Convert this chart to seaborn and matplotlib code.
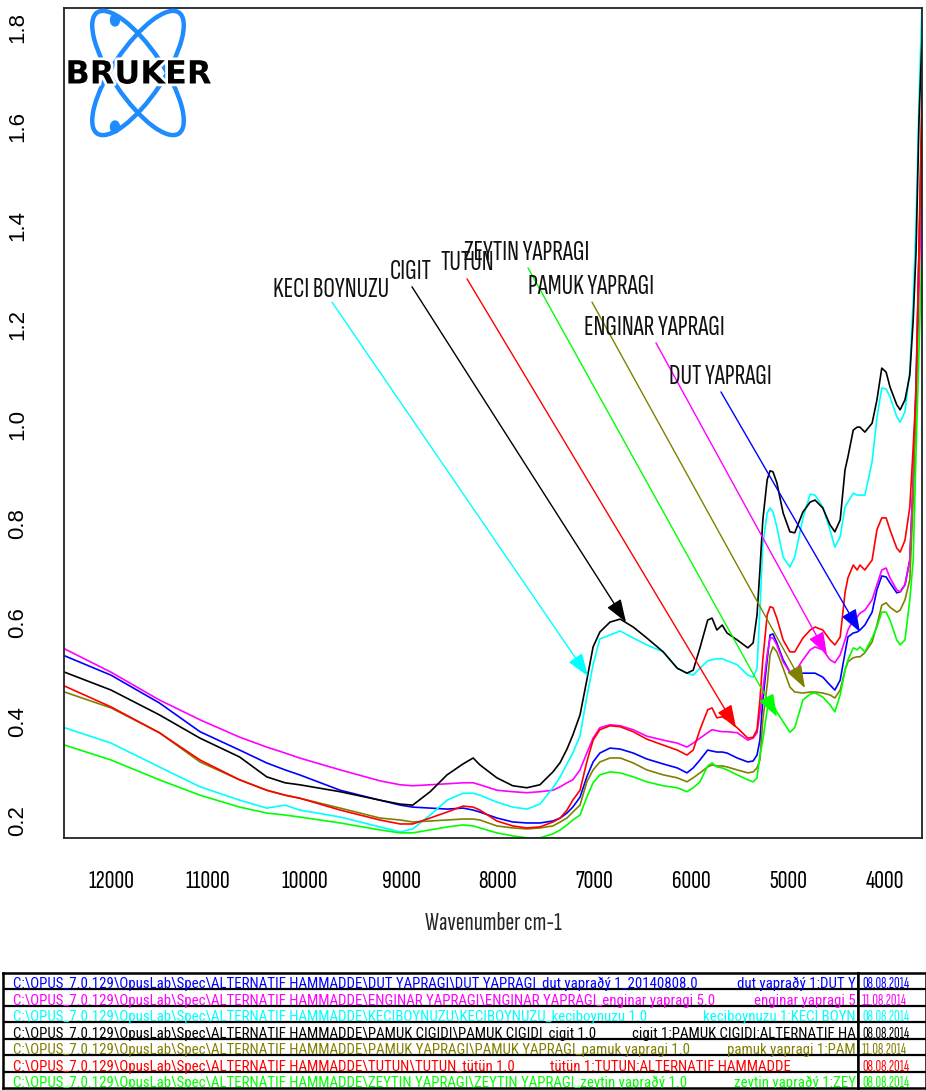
import numpy as np
import pandas as pd
import seaborn as sns
import matplotlib
matplotlib.use("Agg")
import matplotlib.pyplot as plt
from matplotlib import font_manager as fm
from matplotlib.patches import Ellipse
import matplotlib.patheffects as pe

# wavenumber grid (cm-1)
wavenumber = [12480, 12000, 11500, 11080, 10670, 10390, 10200, 10050, 9630, 9220,
              9010, 8880, 8700, 8525, 8360, 8255, 8185, 8010, 7845, 7700,
              7565, 7430, 7355, 7285, 7225, 7150, 7080, 7015, 6945, 6840,
              6735, 6600, 6460, 6290, 6145, 6045, 5980, 5910, 5830, 5785,
              5735, 5680, 5630, 5525, 5415, 5360, 5320, 5290, 5260, 5215,
              5185, 5155, 5115, 5050, 4980, 4930, 4845, 4770, 4720, 4640,
              4565, 4515, 4460, 4410, 4380, 4325, 4285, 4255, 4205, 4130,
              4080, 4030, 3985, 3945, 3875, 3840, 3790, 3740, 3705, 3675,
              3645, 3615]

dut = [0.533, 0.494, 0.438, 0.380, 0.343, 0.317, 0.303, 0.293, 0.262, 0.242,
       0.232, 0.228, 0.226, 0.224, 0.226, 0.222, 0.218, 0.206, 0.198, 0.196,
       0.196, 0.200, 0.206, 0.216, 0.228, 0.248, 0.289, 0.319, 0.337, 0.347,
       0.345, 0.337, 0.325, 0.315, 0.307, 0.297, 0.307, 0.323, 0.343, 0.341,
       0.339, 0.339, 0.337, 0.327, 0.319, 0.321, 0.333, 0.363, 0.444, 0.525,
       0.575, 0.577, 0.559, 0.525, 0.500, 0.494, 0.498, 0.498, 0.498, 0.490,
       0.474, 0.464, 0.484, 0.539, 0.571, 0.579, 0.581, 0.585, 0.595, 0.621,
       0.666, 0.694, 0.692, 0.680, 0.660, 0.662, 0.676, 0.726, 0.888, 1.089,
       1.351, 1.587]

enginar = [0.547, 0.500, 0.444, 0.404, 0.369, 0.349, 0.337, 0.327, 0.303, 0.281,
           0.273, 0.271, 0.273, 0.275, 0.277, 0.277, 0.273, 0.262, 0.259, 0.257,
           0.259, 0.262, 0.269, 0.277, 0.283, 0.303, 0.337, 0.367, 0.388, 0.394,
           0.392, 0.384, 0.371, 0.363, 0.357, 0.349, 0.357, 0.367, 0.378, 0.384,
           0.382, 0.380, 0.380, 0.378, 0.363, 0.367, 0.378, 0.418, 0.464, 0.535,
           0.569, 0.569, 0.555, 0.521, 0.500, 0.500, 0.525, 0.545, 0.551, 0.545,
           0.525, 0.519, 0.535, 0.565, 0.585, 0.605, 0.611, 0.619, 0.625, 0.646,
           0.676, 0.706, 0.710, 0.690, 0.666, 0.662, 0.676, 0.726, 0.888, 1.049,
           1.271, 1.492]

keciboynuzu = [0.388, 0.357, 0.309, 0.269, 0.242, 0.226, 0.232, 0.222, 0.208, 0.188,
               0.178, 0.184, 0.212, 0.242, 0.256, 0.256, 0.252, 0.238, 0.228, 0.224,
               0.234, 0.267, 0.289, 0.315, 0.337, 0.372, 0.450, 0.515, 0.567, 0.575,
               0.583, 0.569, 0.555, 0.541, 0.508, 0.498, 0.494, 0.508, 0.523, 0.525,
               0.527, 0.527, 0.523, 0.515, 0.494, 0.490, 0.508, 0.625, 0.756, 0.821,
               0.831, 0.823, 0.793, 0.732, 0.712, 0.732, 0.811, 0.859, 0.857, 0.833,
               0.787, 0.752, 0.773, 0.833, 0.843, 0.861, 0.857, 0.857, 0.857, 0.924,
               1.013, 1.073, 1.071, 1.055, 1.015, 1.004, 1.025, 1.109, 1.250, 1.412,
               1.654, 1.845]

cigit = [0.500, 0.464, 0.414, 0.367, 0.329, 0.289, 0.277, 0.273, 0.259, 0.242,
         0.234, 0.232, 0.259, 0.293, 0.315, 0.327, 0.313, 0.287, 0.271, 0.267,
         0.273, 0.299, 0.318, 0.345, 0.373, 0.414, 0.484, 0.551, 0.581, 0.601,
         0.607, 0.591, 0.569, 0.541, 0.508, 0.498, 0.504, 0.549, 0.605, 0.609,
         0.585, 0.595, 0.579, 0.565, 0.549, 0.559, 0.615, 0.706, 0.807, 0.888,
         0.906, 0.904, 0.882, 0.821, 0.783, 0.781, 0.823, 0.843, 0.847, 0.831,
         0.797, 0.783, 0.807, 0.908, 0.934, 0.988, 0.994, 0.994, 0.984, 1.002,
         1.049, 1.113, 1.105, 1.075, 1.039, 1.029, 1.049, 1.099, 1.210, 1.351,
         1.613, 1.775]

pamuk = [0.460, 0.428, 0.378, 0.319, 0.283, 0.262, 0.252, 0.246, 0.226, 0.206,
         0.202, 0.198, 0.200, 0.202, 0.204, 0.204, 0.202, 0.190, 0.186, 0.184,
         0.186, 0.190, 0.198, 0.206, 0.218, 0.232, 0.279, 0.303, 0.319, 0.327,
         0.327, 0.317, 0.303, 0.293, 0.287, 0.279, 0.287, 0.297, 0.309, 0.313,
         0.311, 0.311, 0.309, 0.303, 0.297, 0.299, 0.307, 0.323, 0.404, 0.474,
         0.535, 0.551, 0.541, 0.508, 0.470, 0.460, 0.458, 0.460, 0.460, 0.458,
         0.454, 0.448, 0.464, 0.504, 0.521, 0.529, 0.531, 0.531, 0.539, 0.561,
         0.595, 0.635, 0.640, 0.631, 0.621, 0.625, 0.646, 0.686, 0.847, 1.049,
         1.351, 1.627]

tutun = [0.472, 0.430, 0.378, 0.323, 0.283, 0.262, 0.252, 0.246, 0.222, 0.202,
         0.194, 0.194, 0.206, 0.218, 0.230, 0.228, 0.222, 0.200, 0.190, 0.186,
         0.188, 0.198, 0.206, 0.222, 0.242, 0.262, 0.319, 0.363, 0.384, 0.392,
         0.390, 0.380, 0.365, 0.353, 0.343, 0.333, 0.343, 0.384, 0.424, 0.428,
         0.408, 0.410, 0.404, 0.388, 0.367, 0.369, 0.384, 0.444, 0.525, 0.615,
         0.632, 0.630, 0.609, 0.565, 0.541, 0.541, 0.569, 0.585, 0.591, 0.585,
         0.565, 0.555, 0.571, 0.660, 0.690, 0.716, 0.706, 0.716, 0.706, 0.726,
         0.787, 0.811, 0.811, 0.787, 0.750, 0.742, 0.766, 0.833, 0.954, 1.069,
         1.351, 1.674]

zeytin = [0.353, 0.323, 0.283, 0.252, 0.228, 0.216, 0.212, 0.208, 0.196, 0.182,
          0.176, 0.176, 0.182, 0.188, 0.192, 0.190, 0.186, 0.176, 0.170, 0.166,
          0.166, 0.174, 0.182, 0.192, 0.202, 0.212, 0.248, 0.277, 0.293, 0.299,
          0.297, 0.289, 0.279, 0.271, 0.267, 0.259, 0.267, 0.279, 0.311, 0.317,
          0.309, 0.307, 0.303, 0.293, 0.283, 0.279, 0.287, 0.333, 0.363, 0.424,
          0.440, 0.434, 0.420, 0.400, 0.379, 0.388, 0.444, 0.456, 0.458, 0.450,
          0.434, 0.420, 0.454, 0.504, 0.525, 0.549, 0.545, 0.551, 0.541, 0.569,
          0.591, 0.621, 0.621, 0.605, 0.565, 0.555, 0.565, 0.646, 0.726, 0.948,
          1.150, 1.351]

sample_names = ["DUT YAPRAGI", "ENGINAR YAPRAGI", "KECI BOYNUZU", "CIGIT",
                "PAMUK YAPRAGI", "TUTUN", "ZEYTIN YAPRAGI"]
series = [dut, enginar, keciboynuzu, cigit, pamuk, tutun, zeytin]
colors = ["#0000ff", "#ff00ff", "#00ffff", "#000000", "#808000", "#ff0000", "#00ff00"]

# file info table under the plot (second column as far as it is visible)
file_paths = [
    "C:\\OPUS_7.0.129\\OpusLab\\Spec\\ALTERNATIF HAMMADDE\\DUT YAPRAGI\\DUT YAPRAGI_dut yapraðý 1_20140808.0",
    "C:\\OPUS_7.0.129\\OpusLab\\Spec\\ALTERNATIF HAMMADDE\\ENGINAR YAPRAGI\\ENGINAR YAPRAGI_enginar yapragi 5.0",
    "C:\\OPUS_7.0.129\\OpusLab\\Spec\\ALTERNATIF HAMMADDE\\KECIBOYNUZU\\KECIBOYNUZU_keciboynuzu 1.0",
    "C:\\OPUS_7.0.129\\OpusLab\\Spec\\ALTERNATIF HAMMADDE\\PAMUK CIGIDI\\PAMUK CIGIDI_cigit 1.0",
    "C:\\OPUS_7.0.129\\OpusLab\\Spec\\ALTERNATIF HAMMADDE\\PAMUK YAPRAGI\\PAMUK YAPRAGI_pamuk yapragi 1.0",
    "C:\\OPUS_7.0.129\\OpusLab\\Spec\\ALTERNATIF HAMMADDE\\TUTUN\\TUTUN_tütün 1.0",
    "C:\\OPUS_7.0.129\\OpusLab\\Spec\\ALTERNATIF HAMMADDE\\ZEYTIN YAPRAGI\\ZEYTIN YAPRAGI_zeytin yapraðý 1.0",
]
file_descr = [
    "dut yapraðý 1:DUT Y",
    "enginar yapragi 5",
    "keciboynuzu 1:KECI BOYN",
    "cigit 1:PAMUK CIGIDI:ALTERNATIF HA",
    "pamuk yapragi 1:PAM",
    "tütün 1:TUTUN:ALTERNATIF HAMMADDE",
    "zeytin yapraðý 1:ZEY",
]
file_dates = ["08.08.2014", "11.08.2014", "08.08.2014", "08.08.2014",
              "11.08.2014", "08.08.2014", "08.08.2014"]

df = pd.concat([pd.DataFrame({"wavenumber": wavenumber, "absorbance": s, "sample": n})
                for n, s in zip(sample_names, series)], ignore_index=True)


def pick(prefs):
    have = {f.name for f in fm.fontManager.ttflist}
    for p in prefs:
        if p in have:
            return p
    return "Liberation Sans"


narrow_font = pick(["Sofia Sans Extra Condensed", "Fira Sans Extra Condensed", "Roboto Condensed"])
table_font = pick(["Roboto Condensed", "Archivo Narrow", "PT Sans Narrow"])

sns.set_style("white")
plt.rcParams["font.family"] = ["Liberation Sans", "DejaVu Sans"]

W, H = 926, 1090
fig = plt.figure(figsize=(W / 100, H / 100), dpi=100)
renderer = fig.canvas.get_renderer()


def fit_size(s, target_px, family=narrow_font):
    probe = fig.text(0, 0, s, fontsize=14, family=family)
    w = probe.get_window_extent(renderer).width
    probe.remove()
    return 14 * target_px / w


ax = fig.add_axes([64 / W, 1 - 838 / H, (922 - 64) / W, (838 - 8) / H])

sns.lineplot(data=df, x="wavenumber", y="absorbance", hue="sample",
             hue_order=sample_names, palette=dict(zip(sample_names, colors)),
             linewidth=1.2, legend=False, sort=False, estimator=None, ax=ax)

ax.set_xlim(12486, 3614)
ax.set_ylim(0.1657, 1.839)
ax.set_xticks(range(4000, 12001, 1000))
ax.set_yticks(np.arange(0.2, 1.81, 0.2))
ax.set_yticklabels([f"{v:.1f}" for v in np.arange(0.2, 1.81, 0.2)])
ax.tick_params(axis="both", direction="out", length=9, width=1.1, colors="#333333",
               labelcolor="black")
ax.tick_params(axis="x", labelsize=fit_size("12000", 46), labelfontfamily=narrow_font, pad=14)
ax.tick_params(axis="y", labelsize=16, pad=17, labelrotation=90)
for lab in ax.get_yticklabels():
    lab.set_va("center")
for sp in ax.spines.values():
    sp.set_visible(True)
    sp.set_color("#222222")
    sp.set_linewidth(1.3)
ax.set_ylabel("")
ax.set_xlabel("Wavenumber cm-1", fontsize=fit_size("Wavenumber cm-1", 136),
              family=narrow_font, labelpad=14)

# labels with arrows pointing at the curves
notes = [
    ("KECI BOYNUZU", "#00ffff", (9725, 1.270), (9715, 1.246), (7068, 0.492)),
    ("CIGIT", "#000000", (8898, 1.307), (8888, 1.277), (6675, 0.601)),
    ("TUTUN", "#ff0000", (8319, 1.325), (8319, 1.293), (5537, 0.388)),
    ("ZEYTIN YAPRAGI", "#00ff00", (7699, 1.345), (7688, 1.315), (5113, 0.410)),
    ("PAMUK YAPRAGI", "#808000", (7037, 1.277), (7026, 1.246), (4824, 0.468)),
    ("ENGINAR YAPRAGI", "#ff00ff", (6385, 1.194), (6365, 1.164), (4597, 0.535)),
    ("DUT YAPRAGI", "#0000ff", (5703, 1.095), (5693, 1.065), (4255, 0.581)),
]
lab_size = fit_size("KECI BOYNUZU", 116)
for label, c, txt, tail, tip in notes:
    ax.annotate("", xy=tip, xytext=tail,
                arrowprops=dict(arrowstyle="-|>,head_length=0.7,head_width=0.25",
                                color=c, lw=1.0, mutation_scale=20,
                                shrinkA=0, shrinkB=0))
    ax.text(txt[0], txt[1], label, ha="center", va="center", fontsize=lab_size,
            family=narrow_font, color="#111111")

# Bruker logo
lg = fig.add_axes([86 / W, 1 - 136 / H, 106 / W, 126 / H])
lg.set_xlim(0, 106)
lg.set_ylim(0, 126)
lg.axis("off")
blue = "#1e8cff"
for ang in (56, 124):
    lg.add_patch(Ellipse((52, 63), 146, 50, angle=ang, fill=False, ec=blue, lw=3.2,
                         clip_on=False))
for yy in (116, 9):
    lg.add_patch(Ellipse((29, yy), 9, 12, color=blue, clip_on=False))
lg.text(52.5, 61, "BRUKER", ha="center", va="center", fontsize=23,
        fontweight="bold", family="DejaVu Sans", color="black", clip_on=False,
        path_effects=[pe.withStroke(linewidth=4, foreground="white")])

# file table
top, bot = 973, 1088
tl = fig.add_axes([3 / W, 1 - bot / H, (858 - 3) / W, (bot - top) / H])
tr = fig.add_axes([858 / W, 1 - bot / H, (926 - 858) / W, (bot - top) / H])
rows = np.linspace(0, bot - top, 8)
for t, x1 in ((tl, 855), (tr, 68)):
    t.set_xlim(0, x1)
    t.set_ylim(bot - top, 0)
    t.set_xticks([])
    t.set_yticks([])
    for sp in t.spines.values():
        sp.set_linewidth(1.8)
        sp.set_color("black")
    for r in rows[1:-1]:
        t.axhline(r, color="black", lw=1.6, zorder=3)

tab_size = fit_size(file_paths[0], 688, table_font)
date_size = min(11.0, fit_size(file_dates[0], 60, narrow_font))
for i in range(7):
    yb = rows[i + 1] - 1.0
    tl.text(10, yb, file_paths[i], color=colors[i], fontsize=tab_size, family=table_font,
            va="baseline", ha="left", clip_on=True)
    if i == 5:
        tl.text(547, yb, file_descr[i], color=colors[i], fontsize=tab_size,
                family=table_font, va="baseline", ha="left", clip_on=True)
    else:
        tl.text(853, yb, file_descr[i], color=colors[i], fontsize=tab_size,
                family=table_font, va="baseline", ha="right", clip_on=True)
    tr.text(4, yb, file_dates[i], color=colors[i], fontsize=date_size, family=narrow_font,
            va="baseline", ha="left", clip_on=True)

fig.savefig("out.png", dpi=100)
